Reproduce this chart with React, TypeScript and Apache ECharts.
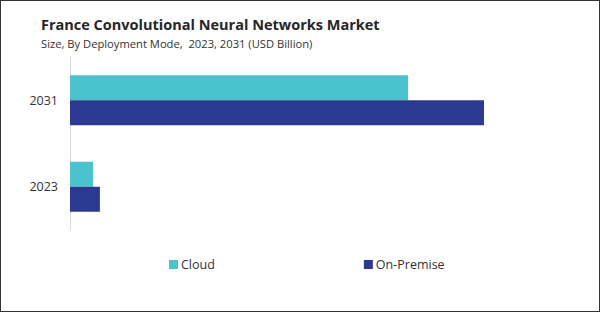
import React, { useEffect, useRef } from "react";
import * as echarts from "echarts";

const categories = ["2031", "2023"];
const cloudValues = [1.47, 0.1];
const onPremiseValues = [1.8, 0.13];
const seriesNames = ["Cloud", "On-Premise"];

export default function App() {
  const ref = useRef<HTMLDivElement>(null);
  useEffect(() => {
    if (!ref.current) return;
    const chart = echarts.init(ref.current, null, { renderer: "svg" });
    chart.setOption({
      animation: false,
      backgroundColor: "#ffffff",
      title: {
        text: "France Convolutional Neural Networks Market",
        subtext: "Size, By Deployment Mode,  2023, 2031 (USD Billion)",
        left: 35,
        top: 11,
        itemGap: 6,
        textStyle: {
          fontFamily: "Open Sans",
          fontSize: 14.5,
          fontWeight: "bold",
          color: "#262626",
        },
        subtextStyle: {
          fontFamily: "Open Sans",
          fontSize: 11.2,
          color: "#333333",
        },
      },
      legend: {
        data: seriesNames,
        left: 163,
        top: 252,
        itemWidth: 9,
        itemHeight: 9,
        itemGap: 149,
        icon: "rect",
        textStyle: { fontFamily: "Open Sans", fontSize: 12.5, color: "#333333", padding: [0, 0, 0, -2] },
      },
      grid: { left: 69, top: 56, width: 506, height: 173, containLabel: false },
      xAxis: {
        type: "value",
        min: 0,
        max: 2.2,
        show: false,
      },
      yAxis: {
        type: "category",
        data: categories,
        inverse: true,
        axisLine: { show: true, lineStyle: { color: "#d9d9d9", width: 1 } },
        axisTick: { show: false },
        axisLabel: { fontFamily: "Open Sans", fontSize: 12.5, color: "#333333", margin: 12 },
      },
      series: [
        {
          name: seriesNames[0],
          type: "bar",
          data: cloudValues,
          barWidth: 25,
          barGap: "0%",
          itemStyle: { color: "#4BC3CE" },
        },
        {
          name: seriesNames[1],
          type: "bar",
          data: onPremiseValues,
          barWidth: 25,
          barGap: "0%",
          itemStyle: { color: "#2B3990" },
        },
      ],
    });
    return () => chart.dispose();
  }, []);
  return (
    <div
      style={{
        position: "fixed",
        left: 0,
        top: 0,
        width: 600,
        height: 312,
        boxSizing: "border-box",
        border: "1px solid #333",
        background: "#fff",
      }}
    >
      <div ref={ref} style={{ width: 598, height: 310 }} />
    </div>
  );
}
